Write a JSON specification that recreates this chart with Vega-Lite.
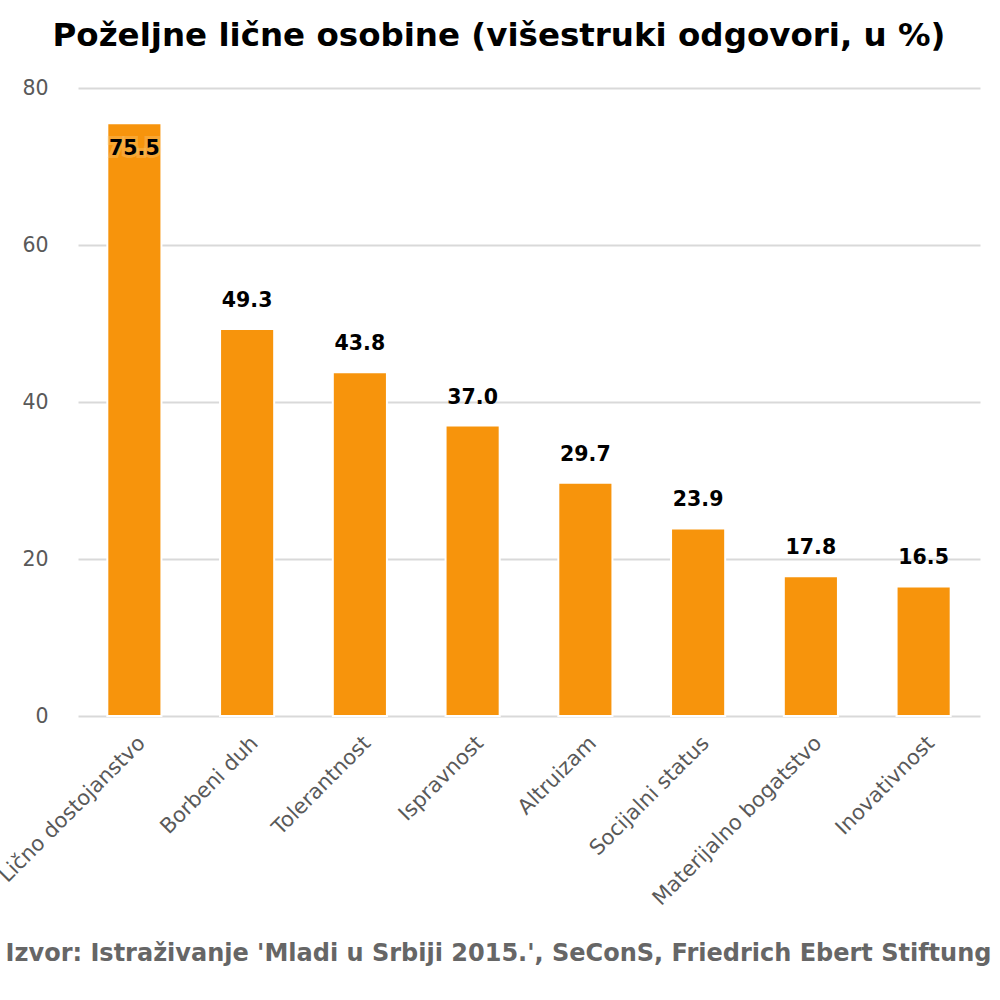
{
  "$schema": "https://vega.github.io/schema/vega-lite/v6.json",
  "autosize": {"type": "none"},
  "padding": {"left": 78, "top": 88, "right": 20, "bottom": 284},
  "width": 902,
  "height": 628,
  "background": "white",
  "title": {
    "text": "Poželjne lične osobine (višestruki odgovori, u %)",
    "font": "DejaVu Sans",
    "fontSize": 32.5,
    "fontWeight": "bold",
    "color": "#000000",
    "anchor": "middle",
    "dx": -30,
    "offset": 26
  },
  "data": {
    "values": [
      {"osobina": "Lično dostojanstvo", "procenat": 75.5},
      {"osobina": "Borbeni duh", "procenat": 49.3},
      {"osobina": "Tolerantnost", "procenat": 43.8},
      {"osobina": "Ispravnost", "procenat": 37.0},
      {"osobina": "Altruizam", "procenat": 29.7},
      {"osobina": "Socijalni status", "procenat": 23.9},
      {"osobina": "Materijalno bogatstvo", "procenat": 17.8},
      {"osobina": "Inovativnost", "procenat": 16.5}
    ]
  },
  "encoding": {
    "x": {
      "field": "osobina",
      "type": "nominal",
      "sort": null,
      "scale": {"paddingInner": 0.52, "paddingOuter": 0.26},
      "axis": {
        "title": "Izvor: Istraživanje 'Mladi u Srbiji 2015.', SeConS, Friedrich Ebert Stiftung",
        "titleFont": "DejaVu Sans",
        "titleFontSize": 24,
        "titleFontWeight": "bold",
        "titleColor": "#666666",
        "titleX": 420,
        "titleY": 244,
        "titleAlign": "center",
        "titleBaseline": "alphabetic",
        "labelAngle": -45,
        "labelFont": "DejaVu Sans",
        "labelFontSize": 21,
        "labelColor": "#595959",
        "labelPadding": 16,
        "labelDx": -4,
        "labelOverlap": false,
        "labelLimit": 0,
        "labelBound": false,
        "ticks": false,
        "domain": false
      }
    },
    "y": {
      "field": "procenat",
      "type": "quantitative",
      "scale": {"domain": [0, 80]},
      "axis": {
        "title": null,
        "values": [0, 20, 40, 60, 80],
        "labelFont": "DejaVu Sans",
        "labelFontSize": 20.5,
        "labelColor": "#595959",
        "labelPadding": 30,
        "ticks": false,
        "domain": false,
        "gridColor": "#d9d9d9",
        "gridWidth": 2
      }
    }
  },
  "layer": [
    {
      "mark": {"type": "bar", "color": "#f7940c", "stroke": "white", "strokeWidth": 2}
    },
    {
      "transform": [{"filter": "datum.procenat < 70"}],
      "mark": {
        "type": "text",
        "font": "DejaVu Sans",
        "fontSize": 20.5,
        "fontWeight": "bold",
        "color": "#000000",
        "baseline": "alphabetic",
        "dy": -22
      },
      "encoding": {"text": {"field": "procenat", "type": "quantitative", "format": ".1f"}}
    },
    {
      "transform": [{"filter": "datum.procenat >= 70"}],
      "mark": {
        "type": "text",
        "font": "DejaVu Sans",
        "fontSize": 20.5,
        "fontWeight": "bold",
        "color": "#fdd9a0",
        "stroke": "#fdd9a0",
        "strokeWidth": 6,
        "strokeOpacity": 0.45,
        "opacity": 0.6,
        "baseline": "alphabetic",
        "dy": 32
      },
      "encoding": {"text": {"field": "procenat", "type": "quantitative", "format": ".1f"}}
    },
    {
      "transform": [{"filter": "datum.procenat >= 70"}],
      "mark": {
        "type": "text",
        "font": "DejaVu Sans",
        "fontSize": 20.5,
        "fontWeight": "bold",
        "color": "#000000",
        "baseline": "alphabetic",
        "dy": 32
      },
      "encoding": {"text": {"field": "procenat", "type": "quantitative", "format": ".1f"}}
    }
  ],
  "config": {"view": {"stroke": null}}
}
